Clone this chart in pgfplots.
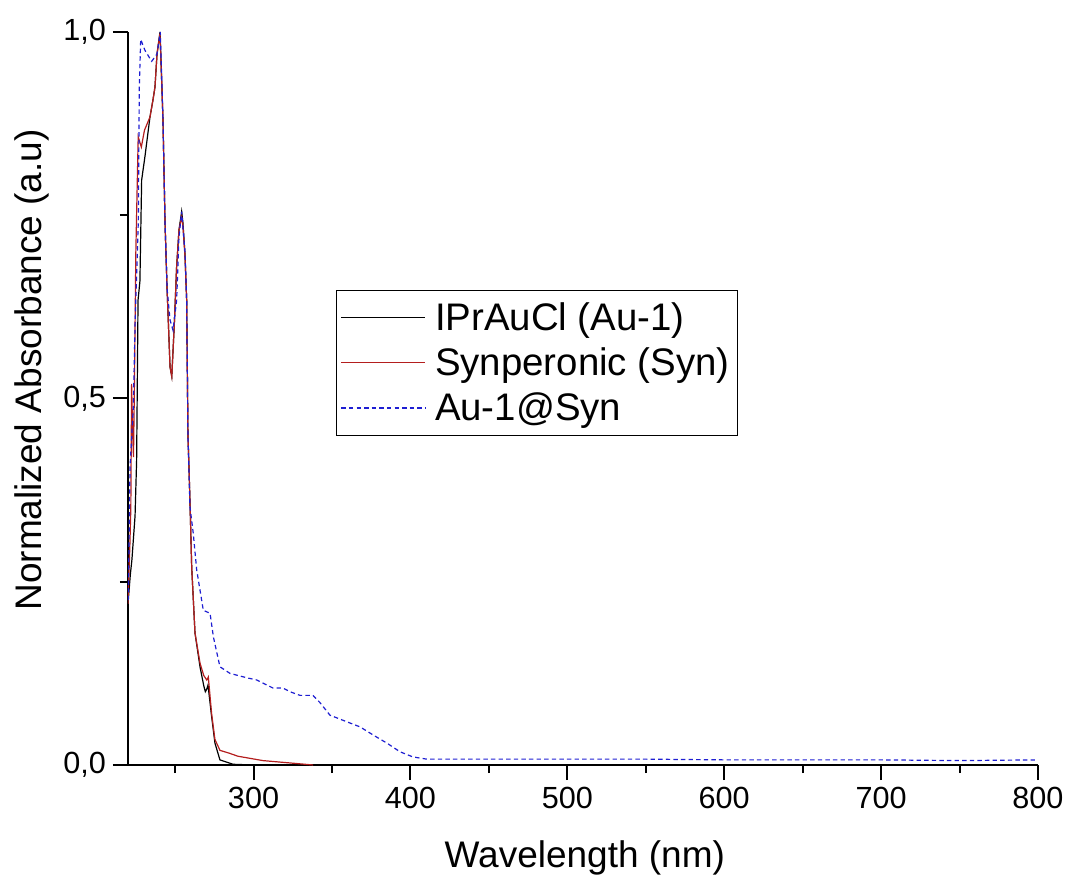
\documentclass[border=0pt]{standalone}
\usepackage{pgfplots}
\pgfplotsset{compat=1.18}
\usepackage{fontspec}
\setmainfont{Liberation Sans}
\definecolor{redline}{RGB}{180,30,30}
\definecolor{blueline}{RGB}{30,30,210}
\begin{document}
\begin{tikzpicture}
\path[use as bounding box] (-64pt,-59pt) rectangle (470.5pt,382.5pt);
\begin{axis}[
  at={(0pt,0pt)}, anchor=south west,
  width=455pt, height=366.5pt, scale only axis,
  xmin=220, xmax=800, ymin=0, ymax=1,
  axis x line*=bottom, axis y line*=left,
  axis line style={line width=1.1pt, -},
  xtick={300,400,...,800}, minor xtick={250,350,...,750},
  ytick={0,0.5,1}, minor ytick={0.25,0.75},
  tick align=outside, major tick length=7.5pt, minor tick length=4pt,
  every tick/.style={black, line width=1pt},
  /pgf/number format/assume math mode=true,
  tick label style={font=\fontsize{15.3}{18}\selectfont},
  yticklabel style={/pgf/number format/.cd, fixed, fixed zerofill, precision=1, use comma},
  xticklabel style={/pgf/number format/.cd, fixed, precision=0, 1000 sep={}},
  xlabel={Wavelength (nm)}, ylabel={Normalized Absorbance (a.u)},
  every axis x label/.style={at={(axis description cs:0.502,-0.127)}, anchor=center, font=\fontsize{18.5}{22}\selectfont},
  every axis y label/.style={at={(axis description cs:-0.1055,0.539)}, anchor=center, rotate=90, font=\fontsize{18.5}{22}\selectfont},
  legend style={at={(axis description cs:0.2286,0.648)}, anchor=north west, draw=black, line width=0.6pt,
    font=\fontsize{19.2}{23}\selectfont, inner xsep=2pt, inner ysep=4pt, row sep=3.2pt, column sep=2.5pt, cells={anchor=west}},
  legend image code/.code={\draw[#1, line width=0.7pt] (0pt,0.25pt) -- (42pt,0.25pt);},
  every axis plot/.append style={line width=0.6pt, mark=none},
]
\addplot[black] coordinates {
(220,0.22) (221.5,0.26) (222.5,0.28) (223.5,0.31) (224.5,0.34) (225.5,0.416) (226.4,0.634)
(227.6,0.66) (228.7,0.798) (230.8,0.83) (234,0.884) (235.9,0.907) (237.2,0.925) (238.5,0.97)
(240.4,1.0) (242.3,0.88) (243.6,0.74) (244.9,0.65) (246.8,0.543) (247.9,0.53) (249.5,0.6)
(251,0.68) (252.5,0.73) (254.2,0.755) (255,0.74) (256.3,0.698) (257.4,0.634) (258.2,0.453)
(259.5,0.36) (260.6,0.27) (262.7,0.18) (265.9,0.134) (268.3,0.108) (269.3,0.100) (270.3,0.104)
(271,0.109) (273.3,0.066) (275.4,0.03) (278.6,0.007) (286.9,0.001) (300,0.0)
};
\addlegendentry{IPrAuCl (Au-1)}
\addplot[redline] coordinates {
(220,0.22) (221.2,0.30) (221.8,0.35) (222.3,0.52) (223,0.45) (223.5,0.42) (224,0.5)
(225,0.7) (226.5,0.857) (228.5,0.843) (230.5,0.866) (234,0.884) (235.9,0.907) (237.2,0.925)
(238.5,0.97) (240.4,0.998) (242.3,0.88) (243.6,0.74) (244.9,0.65) (246.8,0.543) (247.9,0.53)
(249.5,0.6) (251,0.68) (252.5,0.73) (254.2,0.748) (255,0.735) (256.3,0.695) (257.4,0.634)
(258.2,0.453) (259.5,0.36) (260.6,0.27) (262.7,0.18) (265.9,0.139) (268.3,0.122) (270.2,0.116)
(271.2,0.12) (273.3,0.07) (275.4,0.035) (278.6,0.02) (284.7,0.016) (290,0.012) (306,0.006)
(327.5,0.002) (338,0.0)
};
\addlegendentry{Synperonic (Syn)}
\addplot[blueline, dash pattern=on 2.2pt off 1.6pt] coordinates {
(220.2,0.225) (221.3,0.407) (223.4,0.488) (224.5,0.6) (226.6,0.744) (227.2,0.925) (228.1,0.99)
(230.8,0.975) (235.1,0.96) (238.5,0.97) (240.6,1.0) (242.3,0.88) (243.6,0.74) (244.9,0.65)
(246.8,0.607) (248.7,0.593) (251,0.634) (252.5,0.72) (254.2,0.755) (256.3,0.70) (257.4,0.634)
(258.2,0.45) (259.5,0.352) (261.6,0.316) (263.8,0.266) (268,0.211) (272.3,0.207) (274.4,0.175)
(278.6,0.134) (285,0.125) (295.7,0.119) (302,0.116) (312.4,0.105) (318.8,0.105) (323.2,0.1)
(329.6,0.095) (337.9,0.095) (342.4,0.085) (348.7,0.068) (359.4,0.059) (367.9,0.052)
(376.2,0.041) (384.9,0.03) (393.4,0.018) (401.6,0.011) (410.4,0.008) (450,0.008) (500,0.008)
(550,0.008) (600,0.007) (650,0.007) (700,0.007) (750,0.006) (800,0.007)
};
\addlegendentry{Au-1@Syn}
\end{axis}
\end{tikzpicture}
\end{document}
